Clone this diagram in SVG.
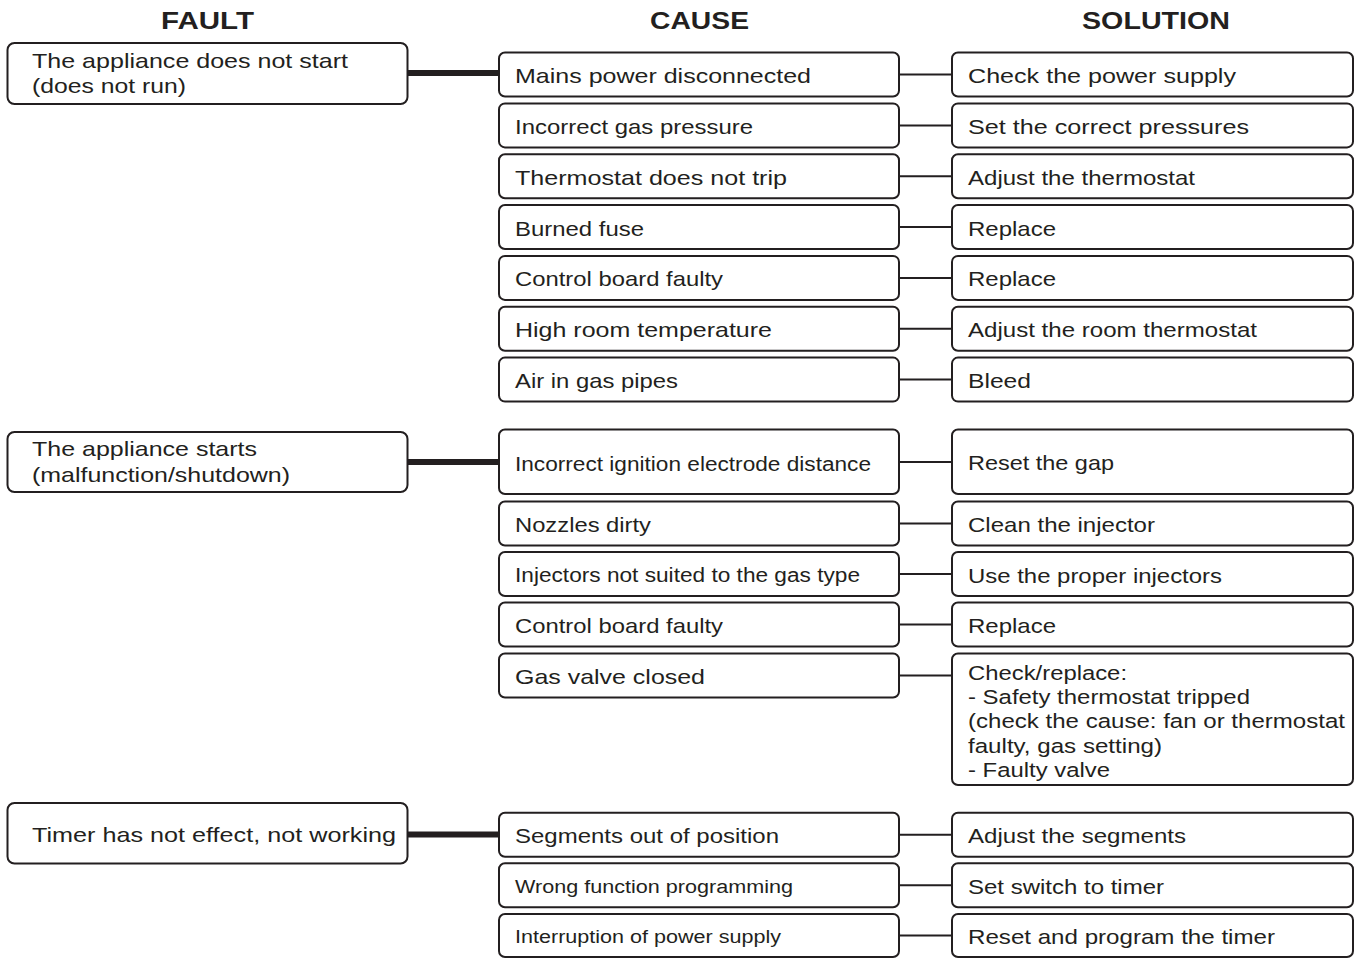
<svg xmlns="http://www.w3.org/2000/svg" width="1361" height="958" viewBox="0 0 1361 958">
<style>
.bg{fill:#fff}
.box{fill:#fff;stroke:#231f20;stroke-width:2}
.t{font-family:"Liberation Sans",Arial,Helvetica,sans-serif;font-size:21px;fill:#231f20}
.s{font-size:18.8px}
.m{font-size:19.5px}
.l{font-size:20.5px}
.h{font-weight:bold;font-size:23px}
.thin{stroke:#231f20;stroke-width:2;fill:none}
.thick{stroke:#231f20;stroke-width:6;fill:none}
</style>
<rect class="bg" x="0" y="0" width="1361" height="958"/>
<g id="headers">
<text class="t h" text-anchor="middle" x="207.5" y="28.5" textLength="93" lengthAdjust="spacingAndGlyphs">FAULT</text>
<text class="t h" text-anchor="middle" x="699.5" y="28.5" textLength="99" lengthAdjust="spacingAndGlyphs">CAUSE</text>
<text class="t h" text-anchor="middle" x="1156" y="28.5" textLength="148" lengthAdjust="spacingAndGlyphs">SOLUTION</text>
</g>
<g id="connectors">
<line class="thick" x1="407.5" y1="73" x2="499" y2="73"/>
<line class="thick" x1="407.5" y1="462" x2="499" y2="462"/>
<line class="thick" x1="407.5" y1="834.5" x2="499" y2="834.5"/>
<line class="thin" x1="899" y1="74.5" x2="952" y2="74.5"/>
<line class="thin" x1="899" y1="125.4" x2="952" y2="125.4"/>
<line class="thin" x1="899" y1="176.2" x2="952" y2="176.2"/>
<line class="thin" x1="899" y1="227" x2="952" y2="227"/>
<line class="thin" x1="899" y1="277.9" x2="952" y2="277.9"/>
<line class="thin" x1="899" y1="328.8" x2="952" y2="328.8"/>
<line class="thin" x1="899" y1="379.6" x2="952" y2="379.6"/>
<line class="thin" x1="899" y1="462" x2="952" y2="462"/>
<line class="thin" x1="899" y1="523.5" x2="952" y2="523.5"/>
<line class="thin" x1="899" y1="574" x2="952" y2="574"/>
<line class="thin" x1="899" y1="624.5" x2="952" y2="624.5"/>
<line class="thin" x1="899" y1="675.5" x2="952" y2="675.5"/>
<line class="thin" x1="899" y1="834.7" x2="952" y2="834.7"/>
<line class="thin" x1="899" y1="885.3" x2="952" y2="885.3"/>
<line class="thin" x1="899" y1="935.5" x2="952" y2="935.5"/>
</g>
<g id="fault1"><rect class="box" x="7.5" y="43" width="400" height="61" rx="7"/>
<text class="t" x="32" y="67.5" textLength="316" lengthAdjust="spacingAndGlyphs">The appliance does not start</text>
<text class="t" x="32" y="93" textLength="154" lengthAdjust="spacingAndGlyphs">(does not run)</text></g>
<g id="fault2"><rect class="box" x="7.5" y="432" width="400" height="60" rx="7"/>
<text class="t" x="32" y="456" textLength="225" lengthAdjust="spacingAndGlyphs">The appliance starts</text>
<text class="t" x="32" y="481.5" textLength="258" lengthAdjust="spacingAndGlyphs">(malfunction/shutdown)</text></g>
<g id="fault3"><rect class="box" x="7.5" y="803" width="400" height="60.5" rx="7"/>
<text class="t" x="32" y="842" textLength="364" lengthAdjust="spacingAndGlyphs">Timer has not effect, not working</text></g>

<g id="cause1"><rect class="box" x="499" y="52.5" width="400" height="44" rx="6"/><text class="t" x="515" y="83" textLength="296" lengthAdjust="spacingAndGlyphs">Mains power disconnected</text></g>
<g id="cause2"><rect class="box" x="499" y="103.4" width="400" height="44" rx="6"/><text class="t" x="515" y="133.9" textLength="238" lengthAdjust="spacingAndGlyphs">Incorrect gas pressure</text></g>
<g id="cause3"><rect class="box" x="499" y="154.2" width="400" height="44" rx="6"/><text class="t" x="515" y="184.7" textLength="272" lengthAdjust="spacingAndGlyphs">Thermostat does not trip</text></g>
<g id="cause4"><rect class="box" x="499" y="205" width="400" height="44" rx="6"/><text class="t" x="515" y="235.5" textLength="129" lengthAdjust="spacingAndGlyphs">Burned fuse</text></g>
<g id="cause5"><rect class="box" x="499" y="255.9" width="400" height="44" rx="6"/><text class="t" x="515" y="286.4" textLength="208" lengthAdjust="spacingAndGlyphs">Control board faulty</text></g>
<g id="cause6"><rect class="box" x="499" y="306.8" width="400" height="44" rx="6"/><text class="t" x="515" y="337.3" textLength="257" lengthAdjust="spacingAndGlyphs">High room temperature</text></g>
<g id="cause7"><rect class="box" x="499" y="357.6" width="400" height="44" rx="6"/><text class="t" x="515" y="388.1" textLength="163" lengthAdjust="spacingAndGlyphs">Air in gas pipes</text></g>

<g id="cause8"><rect class="box" x="499" y="429.5" width="400" height="64.5" rx="6"/><text class="t m" x="515" y="470.5" textLength="356" lengthAdjust="spacingAndGlyphs">Incorrect ignition electrode distance</text></g>
<g id="cause9"><rect class="box" x="499" y="501.5" width="400" height="44" rx="6"/><text class="t" x="515" y="532" textLength="136" lengthAdjust="spacingAndGlyphs">Nozzles dirty</text></g>
<g id="cause10"><rect class="box" x="499" y="552" width="400" height="44" rx="6"/><text class="t m" x="515" y="582" textLength="345" lengthAdjust="spacingAndGlyphs">Injectors not suited to the gas type</text></g>
<g id="cause11"><rect class="box" x="499" y="602.5" width="400" height="44" rx="6"/><text class="t" x="515" y="633" textLength="208" lengthAdjust="spacingAndGlyphs">Control board faulty</text></g>
<g id="cause12"><rect class="box" x="499" y="653.5" width="400" height="44" rx="6"/><text class="t" x="515" y="684" textLength="190" lengthAdjust="spacingAndGlyphs">Gas valve closed</text></g>

<g id="cause13"><rect class="box" x="499" y="812.7" width="400" height="44" rx="6"/><text class="t" x="515" y="843.2" textLength="264" lengthAdjust="spacingAndGlyphs">Segments out of position</text></g>
<g id="cause14"><rect class="box" x="499" y="863.3" width="400" height="44" rx="6"/><text class="t s" x="515" y="892.8" textLength="278" lengthAdjust="spacingAndGlyphs">Wrong function programming</text></g>
<g id="cause15"><rect class="box" x="499" y="914" width="400" height="43" rx="6"/><text class="t s" x="515" y="943.3" textLength="266" lengthAdjust="spacingAndGlyphs">Interruption of power supply</text></g>

<g id="sol1"><rect class="box" x="952" y="52.5" width="401" height="44" rx="6"/><text class="t" x="968" y="83" textLength="268" lengthAdjust="spacingAndGlyphs">Check the power supply</text></g>
<g id="sol2"><rect class="box" x="952" y="103.4" width="401" height="44" rx="6"/><text class="t" x="968" y="133.9" textLength="281" lengthAdjust="spacingAndGlyphs">Set the correct pressures</text></g>
<g id="sol3"><rect class="box" x="952" y="154.2" width="401" height="44" rx="6"/><text class="t" x="968" y="184.7" textLength="227" lengthAdjust="spacingAndGlyphs">Adjust the thermostat</text></g>
<g id="sol4"><rect class="box" x="952" y="205" width="401" height="44" rx="6"/><text class="t" x="968" y="235.5" textLength="88" lengthAdjust="spacingAndGlyphs">Replace</text></g>
<g id="sol5"><rect class="box" x="952" y="255.9" width="401" height="44" rx="6"/><text class="t" x="968" y="286.4" textLength="88" lengthAdjust="spacingAndGlyphs">Replace</text></g>
<g id="sol6"><rect class="box" x="952" y="306.8" width="401" height="44" rx="6"/><text class="t" x="968" y="337.3" textLength="289" lengthAdjust="spacingAndGlyphs">Adjust the room thermostat</text></g>
<g id="sol7"><rect class="box" x="952" y="357.6" width="401" height="44" rx="6"/><text class="t" x="968" y="388.1" textLength="63" lengthAdjust="spacingAndGlyphs">Bleed</text></g>

<g id="sol8"><rect class="box" x="952" y="429.5" width="401" height="64.5" rx="6"/><text class="t" x="968" y="469.5" textLength="146" lengthAdjust="spacingAndGlyphs">Reset the gap</text></g>
<g id="sol9"><rect class="box" x="952" y="501.5" width="401" height="44" rx="6"/><text class="t" x="968" y="532" textLength="187" lengthAdjust="spacingAndGlyphs">Clean the injector</text></g>
<g id="sol10"><rect class="box" x="952" y="552" width="401" height="44" rx="6"/><text class="t" x="968" y="582.5" textLength="254" lengthAdjust="spacingAndGlyphs">Use the proper injectors</text></g>
<g id="sol11"><rect class="box" x="952" y="602.5" width="401" height="44" rx="6"/><text class="t" x="968" y="633" textLength="88" lengthAdjust="spacingAndGlyphs">Replace</text></g>
<g id="sol12"><rect class="box" x="952" y="653.5" width="401" height="131.5" rx="6"/>
<text class="t l" x="968" y="680" textLength="159" lengthAdjust="spacingAndGlyphs">Check/replace:</text>
<text class="t l" x="968" y="704.2" textLength="282" lengthAdjust="spacingAndGlyphs">- Safety thermostat tripped</text>
<text class="t l" x="968" y="728.4" textLength="377" lengthAdjust="spacingAndGlyphs">(check the cause: fan or thermostat</text>
<text class="t l" x="968" y="752.6" textLength="194" lengthAdjust="spacingAndGlyphs">faulty, gas setting)</text>
<text class="t l" x="968" y="776.8" textLength="142" lengthAdjust="spacingAndGlyphs">- Faulty valve</text></g>

<g id="sol13"><rect class="box" x="952" y="812.7" width="401" height="44" rx="6"/><text class="t" x="968" y="843.2" textLength="218" lengthAdjust="spacingAndGlyphs">Adjust the segments</text></g>
<g id="sol14"><rect class="box" x="952" y="863.3" width="401" height="44" rx="6"/><text class="t" x="968" y="893.8" textLength="196" lengthAdjust="spacingAndGlyphs">Set switch to timer</text></g>
<g id="sol15"><rect class="box" x="952" y="914" width="401" height="43" rx="6"/><text class="t" x="968" y="944" textLength="307" lengthAdjust="spacingAndGlyphs">Reset and program the timer</text></g>
</svg>
